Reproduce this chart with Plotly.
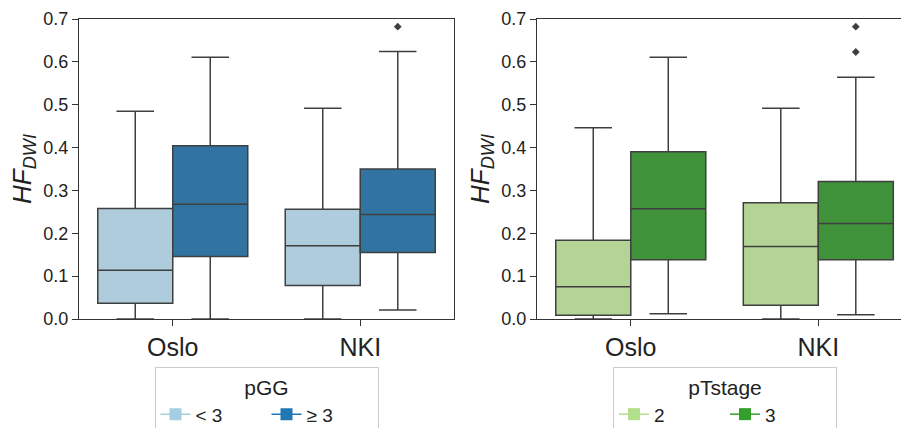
import plotly.graph_objects as go

# ---------------- data ----------------
groups = ["Oslo", "NKI"]

# left panel: pGG
pgg_labels = ["< 3", "≥ 3"]
pgg_low_q1 = [0.037, 0.078]
pgg_low_med = [0.114, 0.171]
pgg_low_q3 = [0.258, 0.256]
pgg_low_lo = [0.0, 0.0]
pgg_low_hi = [0.485, 0.492]

pgg_high_q1 = [0.146, 0.155]
pgg_high_med = [0.268, 0.244]
pgg_high_q3 = [0.404, 0.350]
pgg_high_lo = [0.0, 0.021]
pgg_high_hi = [0.611, 0.624]
pgg_high_outliers = [[], [0.682]]
pgg_low_outliers = [[], []]

# right panel: pTstage
pt_labels = ["2", "3"]
pt2_q1 = [0.009, 0.032]
pt2_med = [0.075, 0.169]
pt2_q3 = [0.184, 0.271]
pt2_lo = [0.0, 0.0]
pt2_hi = [0.446, 0.492]
pt2_outliers = [[], []]

pt3_q1 = [0.138, 0.138]
pt3_med = [0.257, 0.223]
pt3_q3 = [0.390, 0.321]
pt3_lo = [0.012, 0.010]
pt3_hi = [0.611, 0.564]
pt3_outliers = [[], [0.682, 0.623]]

# ---------------- style ----------------
FONT = "Liberation Sans, Arial, sans-serif"
EDGE = "#3f3f3f"
AXC = "#333333"
TXT = "#222222"
W, H = 901, 428

fill_cols = {"pgg": ["#aeccdb", "#3274a1"], "pt": ["#b3d495", "#40923a"]}
leg_cols = {"pgg": ["#a6cee3", "#1f78b4"], "pt": ["#b2df8a", "#33a02c"]}

fig = go.Figure()

BOXW = 0.4
offsets = [-0.2, 0.2]


def add_panel(xa, ya, legend, labels, stats, outs, key):
    for h, (q1, med, q3, lo, hi) in enumerate(stats):
        xs = [i + offsets[h] for i in range(len(groups))]
        fig.add_trace(go.Box(
            x=xs, q1=q1, median=med, q3=q3, lowerfence=lo, upperfence=hi,
            width=BOXW, whiskerwidth=0.5,
            fillcolor=fill_cols[key][h], line=dict(color=EDGE, width=1.5),
            xaxis=xa, yaxis=ya, showlegend=False, hoverinfo="skip",
        ))
        ox, oy = [], []
        for i, vals in enumerate(outs[h]):
            for v in vals:
                ox.append(i + offsets[h])
                oy.append(v)
        if ox:
            fig.add_trace(go.Scatter(
                x=ox, y=oy, mode="markers", xaxis=xa, yaxis=ya,
                marker=dict(symbol="diamond", size=6, color=EDGE),
                showlegend=False, hoverinfo="skip",
            ))
        # legend entries
        fig.add_trace(go.Scatter(
            x=[None], y=[None], mode="lines+markers", name=labels[h],
            line=dict(color=leg_cols[key][h], width=1.5),
            marker=dict(symbol="square", size=12, color=leg_cols[key][h]),
            xaxis=xa, yaxis=ya, legend=legend, showlegend=True,
        ))


add_panel("x", "y", "legend", pgg_labels,
          [(pgg_low_q1, pgg_low_med, pgg_low_q3, pgg_low_lo, pgg_low_hi),
           (pgg_high_q1, pgg_high_med, pgg_high_q3, pgg_high_lo, pgg_high_hi)],
          [pgg_low_outliers, pgg_high_outliers], "pgg")
add_panel("x2", "y2", "legend2", pt_labels,
          [(pt2_q1, pt2_med, pt2_q3, pt2_lo, pt2_hi),
           (pt3_q1, pt3_med, pt3_q3, pt3_lo, pt3_hi)],
          [pt2_outliers, pt3_outliers], "pt")

ydom = [1 - 319 / H, 1 - 19 / H]
xdom1 = [79 / W, 454 / W]
xdom2 = [537 / W, 1.0]

common_x = dict(
    tickvals=list(range(len(groups))), ticktext=groups,
    showline=True, linecolor=AXC, linewidth=1.2, mirror=True,
    ticks="outside", ticklen=6, tickwidth=1.2, tickcolor=AXC,
    showgrid=False, zeroline=False,
    tickfont=dict(family=FONT, size=25, color=TXT),
)
common_y = dict(
    range=[0, 0.7], dtick=0.1, tick0=0, tickformat=".1f",
    showline=True, linecolor=AXC, linewidth=1.2,
    ticks="outside", ticklen=6, tickwidth=1.2, tickcolor=AXC,
    showgrid=False, zeroline=False,
    tickfont=dict(family=FONT, size=18, color=TXT),
    title=dict(text="<i>HF<sub>DWI</sub></i>", standoff=4,
               font=dict(family=FONT, size=26, color=TXT)),
)

leg_common = dict(
    orientation="h", xanchor="center", yanchor="top", y=1 - 367 / H,
    bgcolor="white", bordercolor="#cccccc", borderwidth=1,
    font=dict(family=FONT, size=19, color=TXT),
    entrywidth=66, entrywidthmode="pixels", tracegroupgap=0,
)

fig.update_layout(
    width=W, height=H,
    margin=dict(l=0, r=0, t=0, b=0, autoexpand=False),
    paper_bgcolor="white", plot_bgcolor="white",
    boxmode="overlay",
    font=dict(family=FONT, color=TXT),
    xaxis=dict(domain=xdom1, range=[-0.5, 1.5], anchor="y", **common_x),
    yaxis=dict(domain=ydom, anchor="x", mirror=True, **common_y),
    xaxis2=dict(domain=xdom2, range=[-0.5, 1.441], anchor="y2", **common_x),
    yaxis2=dict(domain=ydom, anchor="x2", mirror=False, **common_y),
    legend=dict(x=266.5 / W,
                title=dict(text="pGG", side="top center",
                           font=dict(family=FONT, size=21, color=TXT)),
                **leg_common),
    legend2=dict(x=725 / W,
                 title=dict(text="pTstage", side="top center",
                            font=dict(family=FONT, size=21, color=TXT)),
                 **leg_common),
)

fig.write_html("out.html")
